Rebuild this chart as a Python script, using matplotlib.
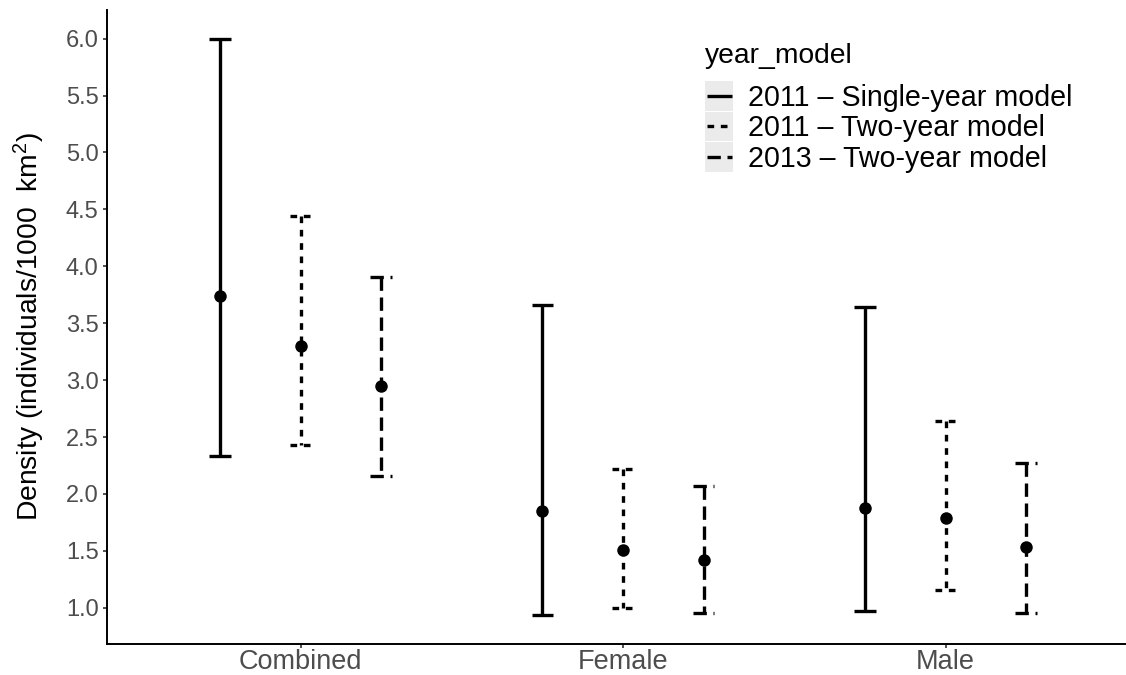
import matplotlib
matplotlib.use("Agg")
import matplotlib.pyplot as plt
from matplotlib.lines import Line2D
from matplotlib.patches import Rectangle

plt.rcParams['font.family'] = ['Liberation Sans', 'DejaVu Sans']
plt.rcParams['mathtext.fontset'] = 'custom'
plt.rcParams['mathtext.rm'] = 'Liberation Sans'
plt.rcParams['mathtext.it'] = 'Liberation Sans'
plt.rcParams['mathtext.default'] = 'regular'

# ---- data ----
categories = ["Combined", "Female", "Male"]
series = ["2011 \u2013 Single-year model", "2011 \u2013 Two-year model", "2013 \u2013 Two-year model"]
est_single2011 = [3.74, 1.85, 1.88]
low_single2011 = [2.33, 0.94, 0.97]
upp_single2011 = [6.00, 3.66, 3.64]
est_two2011 = [3.30, 1.51, 1.79]
low_two2011 = [2.43, 1.00, 1.16]
upp_two2011 = [4.44, 2.22, 2.64]
est_two2013 = [2.95, 1.42, 1.53]
low_two2013 = [2.16, 0.95, 0.95]
upp_two2013 = [3.91, 2.07, 2.27]
y_ticks = [1.0, 1.5, 2.0, 2.5, 3.0, 3.5, 4.0, 4.5, 5.0, 5.5, 6.0]

estimates = [est_single2011, est_two2011, est_two2013]
lowers = [low_single2011, low_two2011, low_two2013]
uppers = [upp_single2011, upp_two2011, upp_two2013]

W, H = 1126, 675
fig = plt.figure(figsize=(W / 100, H / 100), dpi=100)

# axes placement in pixels
ax_left, ax_top, ax_bottom = 107, 9.9, 643.8
ax_w = (3.2 * 322.5)
ax = fig.add_axes([ax_left / W, 1 - ax_bottom / H, ax_w / W, (ax_bottom - ax_top) / H])

lw = 2.4
styles = ['solid', (0, (2, 2)), (0, (4, 2))]
dodge = [-0.25, 0.0, 0.25]
cap_half = 0.2 / 3 / 2

for s in range(3):
    for i in range(3):
        x = i + 1 + dodge[s]
        lo, hi, est = lowers[s][i], uppers[s][i], estimates[s][i]
        kw = dict(color='black', lw=lw, linestyle=styles[s],
                  dash_capstyle='butt', solid_capstyle='butt', zorder=2)
        ax.plot([x - cap_half, x + cap_half], [hi, hi], **kw)
        ax.plot([x, x], [hi, lo], **kw)
        ax.plot([x - cap_half, x + cap_half], [lo, lo], **kw)
        ax.plot([x], [est], marker='o', color='black', markersize=9,
                markeredgewidth=0, linestyle='none', zorder=3)

ax.set_xlim(0.4, 3.6)
ax.set_ylim(0.683, 6.253)
ax.set_xticks([1, 2, 3])
ax.set_xticklabels(categories)
ax.set_yticks(y_ticks)
ax.set_yticklabels([f"{v:.1f}" for v in y_ticks])

for side in ['top', 'right']:
    ax.spines[side].set_visible(False)
for side in ['left', 'bottom']:
    ax.spines[side].set_linewidth(1.4)
    ax.spines[side].set_color('black')

ax.tick_params(axis='y', labelsize=17, labelcolor='#4D4D4D', color='#333333',
               length=3, width=1.2, pad=3)
ax.tick_params(axis='x', labelsize=19.5, labelcolor='#4D4D4D', color='#333333',
               length=3, width=1.2, pad=0.8)

fig.text(29 / W, 1 - 326.9 / H, 'Density (individuals/1000  km$^2$)',
         rotation=90, ha='center', va='center', fontsize=20.3, color='black')

# ---- legend (manual, ggplot style) ----
def fx(x):
    return x / W

def fy(y):
    return 1 - y / H

fig.text(fx(705), fy(62.7), 'year_model', fontsize=20.3, ha='left', va='baseline')
key_tops = [81, 111.5, 142]
key_h = 29.5
for k in range(3):
    fig.patches.append(Rectangle((fx(705), fy(key_tops[k] + key_h)), 28.3 / W, key_h / H,
                                 transform=fig.transFigure, facecolor='#EBEBEB',
                                 edgecolor='none', zorder=1))
    yc = key_tops[k] + key_h / 2
    fig.lines.append(Line2D([fx(706.7), fx(731.7)], [fy(yc), fy(yc)],
                            transform=fig.transFigure, color='black', lw=lw,
                            linestyle=styles[k], dash_capstyle='butt',
                            solid_capstyle='butt', zorder=2))
    fig.text(fx(748), fy(yc + 10), series[k], fontsize=20.6, ha='left', va='baseline')

fig.savefig('out.png', dpi=100)
